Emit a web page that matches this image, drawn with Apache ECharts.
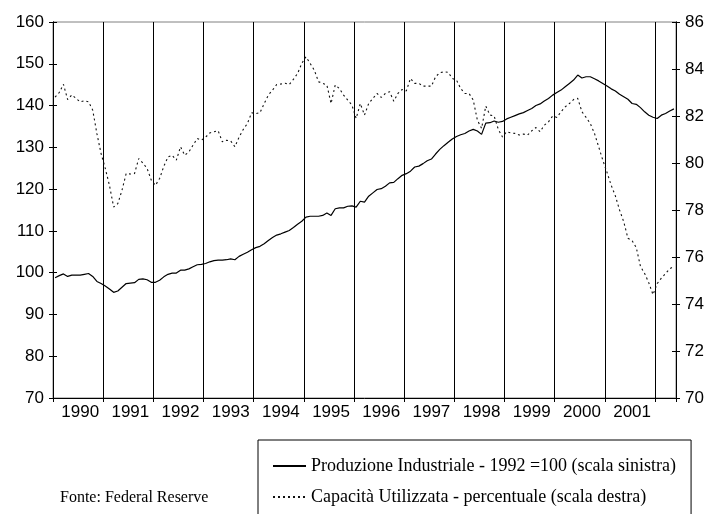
<!DOCTYPE html>
<html style="height: 100%">
<head>
<meta charset="utf-8">
<script src="https://cdn.jsdelivr.net/npm/echarts@6/dist/echarts.min.js"></script>
</head>
<body style="height: 100%; margin: 0; background: #fff">
<div id="container" style="width: 723px; height: 514px"></div>
<script type="text/javascript">
// anni sull'asse (dati mensili da gen 1990 a mag 2002)
var years = [1990, 1991, 1992, 1993, 1994, 1995, 1996, 1997, 1998, 1999, 2000, 2001, 2002];

// Produzione industriale, 1992 = 100 (scala sinistra)
var produzione = [
    98.8, 99.3, 99.7, 99.1, 99.4, 99.4, 99.4, 99.6, 99.8, 99.1, 97.9, 97.4,
    96.8, 96.1, 95.3, 95.6, 96.5, 97.4, 97.5, 97.6, 98.4, 98.5, 98.3, 97.7,
    97.7, 98.2, 99.0, 99.6, 99.9, 99.9, 100.6, 100.6, 100.9, 101.4, 101.9, 102.0,
    102.2, 102.6, 102.9, 103.0, 103.0, 103.1, 103.3, 103.1, 103.9, 104.4, 104.9, 105.5,
    106.0, 106.3, 106.9, 107.7, 108.4, 109.0, 109.3, 109.7, 110.1, 110.8, 111.6, 112.3,
    113.3, 113.5, 113.5, 113.5, 113.7, 114.3, 113.7, 115.3, 115.5, 115.5, 115.9, 116.0,
    115.7, 117.1, 116.9, 118.3, 119.1, 119.9, 120.1, 120.7, 121.5, 121.6, 122.5, 123.3,
    123.7, 124.3, 125.3, 125.5, 126.1, 126.8, 127.2, 128.4, 129.5, 130.4, 131.2, 132.0,
    132.6, 133.0, 133.3, 133.9, 134.3, 133.9, 133.1, 135.8, 135.9, 136.3, 136.0, 136.2,
    136.8, 137.2, 137.6, 138.0, 138.3, 138.8, 139.3, 140.0, 140.4, 141.1, 141.7, 142.5,
    143.1, 143.7, 144.5, 145.3, 146.1, 147.3, 146.6, 146.9, 146.9, 146.4, 145.9, 145.3,
    144.7, 144.0, 143.5, 142.7, 142.1, 141.5, 140.5, 140.3, 139.5, 138.5, 137.7, 137.2,
    136.9, 137.7, 138.1, 138.7, 139.2
];

// Capacita' utilizzata, percentuale (scala destra)
var capacita = [
    82.8, 83.0, 83.35, 82.7, 82.9, 82.75, 82.6, 82.65, 82.6, 82.25, 81.25, 80.4,
    79.77, 79.05, 78.13, 78.27, 78.84, 79.55, 79.53, 79.55, 80.19, 80.0, 79.77, 79.27,
    79.05, 79.34, 79.86, 80.26, 80.33, 80.12, 80.69, 80.33, 80.47, 80.76, 81.04, 80.97,
    81.1, 81.28, 81.33, 81.37, 80.9, 80.97, 80.94, 80.69, 81.1, 81.43, 81.68, 82.14,
    82.1, 82.14, 82.53, 82.89, 83.1, 83.34, 83.36, 83.39, 83.34, 83.56, 83.81, 84.24,
    84.52, 84.24, 83.95, 83.46, 83.39, 83.32, 82.53, 83.32, 83.17, 82.89, 82.68, 82.46,
    81.9, 82.53, 82.04, 82.53, 82.75, 82.96, 82.79, 82.96, 83.03, 82.63, 82.96, 83.13,
    83.07, 83.6, 83.39, 83.39, 83.27, 83.27, 83.27, 83.67, 83.84, 83.88, 83.86, 83.6,
    83.53, 83.17, 82.96, 82.96, 82.68, 81.82, 81.47, 82.42, 82.04, 82.0, 81.43, 81.11,
    81.33, 81.28, 81.26, 81.19, 81.23, 81.19, 81.37, 81.51, 81.33, 81.61, 81.75, 82.0,
    81.94, 82.18, 82.39, 82.53, 82.7, 82.75, 82.18, 81.94, 81.68, 81.26, 80.69, 80.12,
    79.6, 79.05, 78.6, 78.0, 77.5, 76.8, 76.7, 76.4, 75.6, 75.3, 74.9, 74.4,
    74.87, 75.1, 75.3, 75.5, 75.6
];

var nomeProd = 'Produzione Industriale - 1992 =100 (scala sinistra)';
var nomeCap = 'Capacità Utilizzata - percentuale (scala destra)';
var fonte = 'Fonte: Federal Reserve';

// categorie mensili
var mesi = [];
years.forEach(function (y) {
    for (var m = 1; m <= 12; m++) {
        if (mesi.length < produzione.length) mesi.push(y + '-' + (m < 10 ? '0' + m : m));
    }
});

var dom = document.getElementById('container');
var myChart = echarts.init(dom, null, {renderer: 'canvas'});
var axisFont = {color: '#000', fontSize: 17, fontFamily: 'Liberation Sans'};
var serifFont = 'Liberation Serif';

function yAxisBase(pos, min, max, step, inside) {
    return {
        type: 'value',
        position: pos,
        min: min,
        max: max,
        interval: step,
        axisLine: {show: true, lineStyle: {color: '#000', width: 1}},
        axisTick: {show: true, inside: inside, length: 4, lineStyle: {color: '#000'}},
        axisLabel: inside ? {show: false} : Object.assign({margin: 9}, axisFont),
        splitLine: {show: false}
    };
}

option = {
    animation: false,
    backgroundColor: '#fff',
    title: {
        text: fonte,
        left: 60,
        top: 490,
        padding: 0,
        textStyle: {fontFamily: serifFont, fontSize: 16, fontWeight: 'normal', color: '#000'}
    },
    legend: {
        orient: 'vertical',
        left: 258,
        top: 440,
        height: 300,   // altrimenti va a capo (il riquadro esce sotto il bordo)
        padding: [17, 15, 30, 14],
        itemGap: 13,
        itemWidth: 33,
        itemHeight: 14,
        borderColor: '#000',
        borderWidth: 1,
        itemStyle: {opacity: 0},
        textStyle: {fontFamily: serifFont, fontSize: 18, color: '#000'},
        data: [nomeProd, nomeCap]
    },
    grid: {
        left: 53,
        right: 47,
        top: 22,
        height: 376,
        show: true,
        borderColor: '#808080',
        borderWidth: 1
    },
    xAxis: {
        type: 'category',
        data: mesi,
        boundaryGap: true,
        axisLine: {lineStyle: {color: '#000', width: 1}},
        axisTick: {
            show: true,
            length: 4,
            interval: function (i) { return i % 12 === 0; },
            lineStyle: {color: '#000'}
        },
        axisLabel: Object.assign({
            margin: 6,
            interval: function (i) { return i % 12 === 6; },
            formatter: function (v) { return v.slice(0, 4); }
        }, axisFont),
        splitLine: {
            show: true,
            interval: function (i) { return i % 12 === 0 && i > 0; },
            lineStyle: {color: '#000', width: 1}
        }
    },
    yAxis: [
        yAxisBase('left', 70, 160, 10, false),
        yAxisBase('right', 70, 86, 2, false),
        yAxisBase('left', 70, 160, 10, true),
        yAxisBase('right', 70, 86, 2, true)
    ],
    series: [
        {
            name: nomeProd,
            type: 'line',
            yAxisIndex: 0,
            symbol: 'none',
            showSymbol: false,
            lineStyle: {color: '#000', width: 1.2},
            itemStyle: {color: '#000'},
            data: produzione
        },
        {
            name: nomeCap,
            type: 'line',
            yAxisIndex: 1,
            symbol: 'none',
            showSymbol: false,
            lineStyle: {color: '#111', width: 1.1, type: [2, 3]},
            itemStyle: {color: '#111'},
            data: capacita
        }
    ]
};

if (option && typeof option === 'object') {
    myChart.setOption(option, true);
}
</script>
</body>
</html>
